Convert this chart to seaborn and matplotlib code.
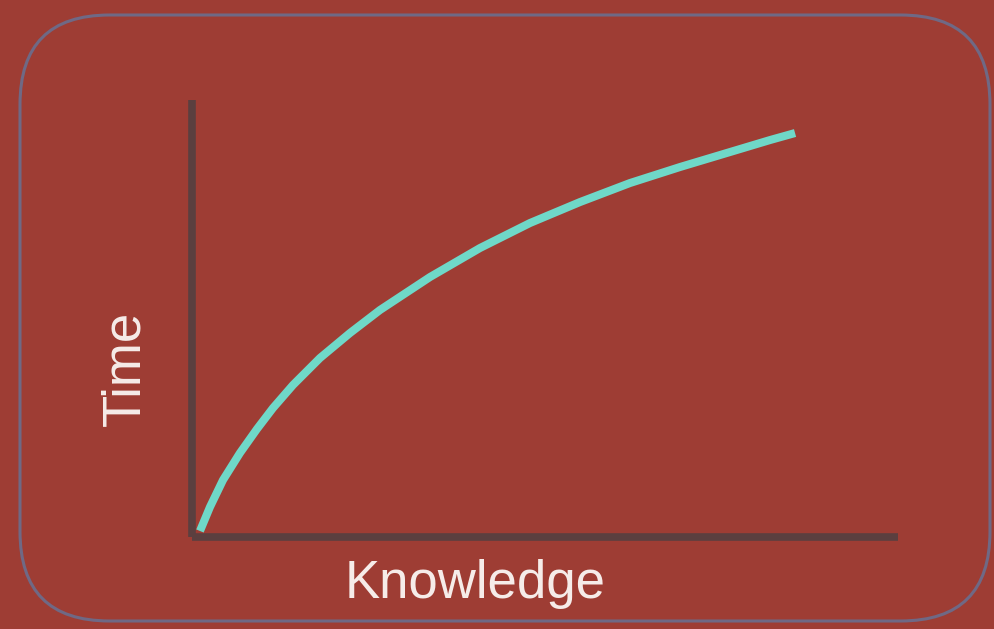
import matplotlib
matplotlib.use("Agg")
import matplotlib.pyplot as plt
from matplotlib.patches import FancyBboxPatch
import seaborn as sns
import pandas as pd

# values
knowledge = [0, 1.68, 3.87, 6.72, 9.58, 12.27, 15.63, 20.17, 25.21, 30.25,
             38.66, 47.06, 55.46, 63.87, 72.27, 80.67, 89.08, 95.80, 100]
time = [0, 6.03, 12.81, 19.60, 25.63, 30.90, 36.68, 43.47, 49.75, 55.53,
        63.82, 71.11, 77.39, 82.66, 87.44, 91.46, 95.23, 98.24, 100]
x_label = "Knowledge"
y_label = "Time"

bg = "#9e3d34"
border = "#6f6985"
axis_col = "#5b3f3f"
curve_col = "#6fd8c8"
text_col = "#f6ece9"

sns.set_style("white")
plt.rcParams["font.family"] = ["Liberation Sans", "DejaVu Sans"]

df = pd.DataFrame({"knowledge": knowledge, "time": time})

fig = plt.figure(figsize=(9.94, 6.29), dpi=100)
fig.patch.set_facecolor(bg)

# rounded frame around everything
frame = FancyBboxPatch((20 / 994, 8 / 629), 970 / 994, 606 / 629,
                       boxstyle="round,pad=0,rounding_size=0.09",
                       transform=fig.transFigure, facecolor="none",
                       edgecolor=border, linewidth=2.2, mutation_aspect=994 / 629)
fig.patches.append(frame)

ax = fig.add_axes([192 / 994, 1 - 537 / 629, 706 / 994, 437 / 629])
ax.set_facecolor("none")
sns.lineplot(data=df, x="knowledge", y="time", ax=ax, color=curve_col,
             linewidth=5.8, solid_capstyle="butt", solid_joinstyle="round")
ax.set_xlim(-1.34, 117.3)
ax.set_ylim(-1.51, 108.3)
ax.set_xticks([])
ax.set_yticks([])
ax.set_xlabel("")
ax.set_ylabel("")
for side in ["top", "right"]:
    ax.spines[side].set_visible(False)
for side in ["left", "bottom"]:
    ax.spines[side].set_color(axis_col)
    ax.spines[side].set_linewidth(5.5)
    ax.spines[side].set_capstyle("butt")

fig.text(475 / 994, 1 - 584 / 629, x_label, color=text_col, fontsize=38,
         ha="center", va="center")
fig.text(125 / 994, 1 - 368 / 629, y_label, color=text_col, fontsize=38,
         ha="center", va="center", rotation=90)

fig.savefig("out.png", dpi=100, facecolor=bg)
